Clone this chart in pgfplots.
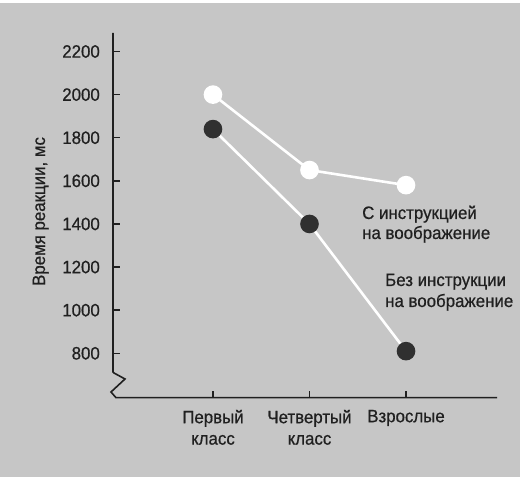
\documentclass[border=0pt]{standalone}
\usepackage{pgfplots}
\pgfplotsset{compat=1.18}
\usepackage{fontspec}
\setmainfont[FakeStretch=0.94, FakeBold=0.6]{Liberation Sans}
\definecolor{bg}{HTML}{C6C6C6}
\definecolor{ink}{HTML}{202020}
\definecolor{dot}{HTML}{303030}
\begin{document}
\begin{tikzpicture}[x=1bp,y=1bp]
\useasboundingbox (0,0) rectangle (520,477);
\fill[bg] (0,0) rectangle (520,477);
\fill[white] (0,474) rectangle (520,477);
\begin{axis}[
  at={(113bp,79.3bp)}, anchor=south west,
  scale only axis, width=384bp, height=363bp,
  xmin=-1.036, xmax=2.943, ymin=594, ymax=2278,
  axis x line=bottom, axis y line=left,
  axis line style={draw=none,-},
  clip=false,
  tick align=inside,
  major tick length=7bp,
  tick style={ink, line width=1.4bp},
  ytick={800,1000,...,2200},
  xtick={0,1,2},
  xticklabels={{Первый\\класс},{Четвертый\\класс},{Взрослые}},
  /pgf/number format/assume math mode=true,
  /pgf/number format/1000 sep={},
  every tick label/.append style={font=\fontsize{18}{21.5}\selectfont, text=ink},
  xticklabel style={align=center, anchor=north, inner sep=0pt, yshift=-12bp},
  yticklabel style={anchor=east, inner sep=0pt, xshift=-13bp},
]
\addplot[white, line width=2.6bp, mark=*, mark size=8bp, mark options={fill=white, draw=white}]
  coordinates {(0,2000) (1,1650) (2,1580)};
\addplot[white, line width=2.6bp, mark=*, mark size=8bp, mark options={fill=dot, draw=dot}]
  coordinates {(0,1840) (1,1400) (2,810)};
\end{axis}
\draw[ink, line width=1.6bp, line join=miter] (113,444) -- (113,105) -- (114,104) -- (125,98) -- (111,85) -- (116,79.3) -- (497,79.3);
\node[rotate=90, anchor=base, font=\fontsize{18}{21}\selectfont, text=ink] at (45,265.5) {Время реакции, мс};
\begin{scope}[every node/.style={anchor=base west, inner sep=0pt, font=\fontsize{18}{21}\selectfont, text=ink}]
\node at (362,258) {С инструкцией};
\node at (362,238) {на воображение};
\node at (385,191) {Без инструкции};
\node at (385,170) {на воображение};
\end{scope}
\end{tikzpicture}
\end{document}
